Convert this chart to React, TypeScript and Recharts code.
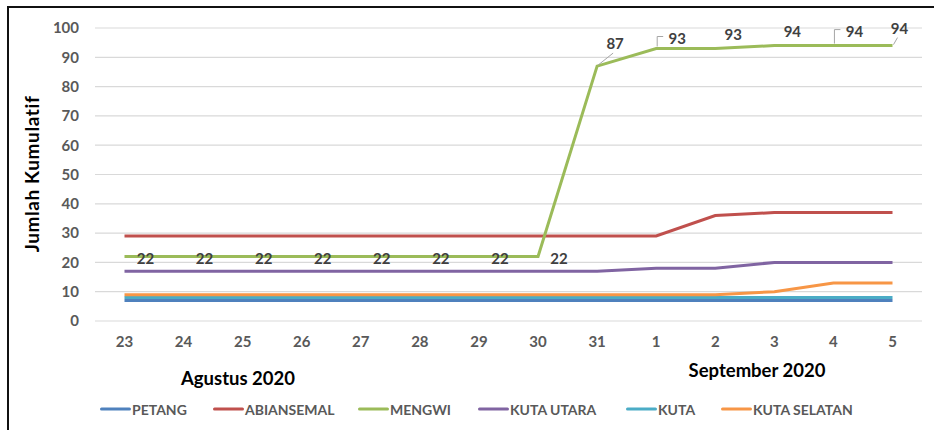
import React from "react";
import { LineChart, Line, XAxis, YAxis, CartesianGrid, LabelList } from "recharts";

// ── Data ────────────────────────────────────────────────────────────────────

const days = ["23", "24", "25", "26", "27", "28", "29", "30", "31", "1", "2", "3", "4", "5"];

const petang = [7, 7, 7, 7, 7, 7, 7, 7, 7, 7, 7, 7, 7, 7];
const abiansemal = [29, 29, 29, 29, 29, 29, 29, 29, 29, 29, 36, 37, 37, 37];
const mengwi = [22, 22, 22, 22, 22, 22, 22, 22, 87, 93, 93, 94, 94, 94];
const kutaUtara = [17, 17, 17, 17, 17, 17, 17, 17, 17, 18, 18, 20, 20, 20];
const kuta = [8, 8, 8, 8, 8, 8, 8, 8, 8, 8, 8, 8, 8, 8];
const kutaSelatan = [9, 9, 9, 9, 9, 9, 9, 9, 9, 9, 9, 10, 13, 13];

const yTicks = [0, 10, 20, 30, 40, 50, 60, 70, 80, 90, 100];

const series = [
  { key: "PETANG", values: petang, color: "#4F81BD" },
  { key: "ABIANSEMAL", values: abiansemal, color: "#C0504D" },
  { key: "MENGWI", values: mengwi, color: "#9BBB59" },
  { key: "KUTA UTARA", values: kutaUtara, color: "#8064A2" },
  { key: "KUTA", values: kuta, color: "#4BACC6" },
  { key: "KUTA SELATAN", values: kutaSelatan, color: "#F79646" },
];

const rows = days.map((d, i) => {
  const row: Record<string, string | number> = { day: d };
  for (const s of series) row[s.key] = s.values[i];
  return row;
});

// label placement for the MENGWI values (style only)
const labelOffsets: Record<number, { dx: number; dy: number; leader?: "bracket" | "diag" }> = {
  8: { dx: 18, dy: -23, leader: "diag" },
  9: { dx: 21, dy: -11, leader: "bracket" },
  10: { dx: 18, dy: -15 },
  11: { dx: 18, dy: -15 },
  12: { dx: 21, dy: -15, leader: "bracket" },
  13: { dx: 7, dy: -18, leader: "diag" },
};

// legend item left edges (style only)
const legendLeft = [100, 213, 358, 478, 626, 721];

const FONT = "Lato, 'Open Sans', sans-serif";

// ── Label renderer ──────────────────────────────────────────────────────────

function MengwiLabel(props: any) {
  const { x, y, value, index } = props;
  const off = labelOffsets[index] ?? { dx: 21, dy: 1 };
  const tx = x + off.dx;
  const ty = y + off.dy;
  let leader = null;
  if (off.leader === "bracket") {
    leader = (
      <polyline
        points={`${x + 1},${y - 2} ${x + 1},${ty - 1} ${x + 7},${ty - 1}`}
        fill="none"
        stroke="#A6A6A6"
        strokeWidth={1}
      />
    );
  } else if (off.leader === "diag") {
    leader = <line x1={x + 1} y1={y - 1} x2={tx - 2} y2={ty + 10} stroke="#A6A6A6" strokeWidth={1} />;
  }
  return (
    <g>
      {leader}
      <text
        x={tx}
        y={ty}
        textAnchor="middle"
        dominantBaseline="central"
        fontFamily={FONT}
        fontWeight={700}
        fontSize={15}
        fill="#404040"
      >
        {value}
      </text>
    </g>
  );
}

// ── Component ───────────────────────────────────────────────────────────────

export default function App() {
  const tick = { fontSize: 15, fontWeight: 700, fill: "#595959", fontFamily: FONT };

  return (
    <div style={{ position: "absolute", left: 0, top: 0, width: 934, height: 430, background: "#fff", overflow: "hidden" }}>
      {/* frame */}
      <div
        style={{
          position: "absolute",
          left: 7,
          top: 6,
          width: 940,
          height: 440,
          borderTop: "2px solid #111",
          borderLeft: "2px solid #111",
        }}
      />

      <LineChart
        width={934}
        height={430}
        data={rows}
        margin={{ top: 28, right: 12, bottom: 69, left: 35 }}
        style={{ position: "absolute", left: 0, top: 0 }}
      >
        <CartesianGrid vertical={false} stroke="#D9D9D9" strokeWidth={1.2} />
        <XAxis
          dataKey="day"
          axisLine={false}
          tickLine={false}
          tickSize={0}
          tickMargin={15}
          tick={tick}
          padding={{ left: 29.5, right: 29.5 }}
          interval={0}
          height={40}
        />
        <YAxis
          domain={[0, 100]}
          ticks={yTicks}
          axisLine={false}
          tickLine={false}
          tickSize={0}
          tickMargin={16}
          tick={tick}
          width={60}
          interval={0}
        />
        {series.map((s) => (
          <Line
            key={s.key}
            dataKey={s.key}
            stroke={s.color}
            strokeWidth={3}
            dot={false}
            type="linear"
            isAnimationActive={false}
          >
            {s.key === "MENGWI" && <LabelList dataKey="MENGWI" content={MengwiLabel} />}
          </Line>
        ))}
      </LineChart>

      {/* axis title */}
      <div
        style={{
          position: "absolute",
          left: 31,
          top: 174,
          transform: "translate(-50%, -50%) rotate(-90deg)",
          whiteSpace: "nowrap",
          fontFamily: FONT,
          fontWeight: 700,
          fontSize: 19,
          letterSpacing: 0.6,
          color: "#000",
        }}
      >
        Jumlah Kumulatif
      </div>

      {/* month labels */}
      <div
        style={{
          position: "absolute",
          left: 238,
          top: 378,
          transform: "translate(-50%, -50%)",
          fontFamily: FONT,
          fontWeight: 700,
          fontSize: 18.5,
          whiteSpace: "nowrap",
        }}
      >
        Agustus 2020
      </div>
      <div
        style={{
          position: "absolute",
          left: 757,
          top: 370,
          transform: "translate(-50%, -50%)",
          fontFamily: FONT,
          fontWeight: 700,
          fontSize: 18.5,
          whiteSpace: "nowrap",
        }}
      >
        September 2020
      </div>

      {/* legend */}
      {series.map((s, i) => (
        <div
          key={s.key}
          style={{
            position: "absolute",
            left: legendLeft[i],
            top: 409,
            transform: "translateY(-50%)",
            display: "flex",
            alignItems: "center",
            fontFamily: FONT,
            fontWeight: 700,
            fontSize: 14,
            color: "#595959",
            whiteSpace: "nowrap",
          }}
        >
          <span style={{ display: "inline-block", width: 31, height: 3.5, borderRadius: 2, background: s.color }} />
          <span style={{ marginLeft: 1 }}>{s.key}</span>
        </div>
      ))}
    </div>
  );
}
